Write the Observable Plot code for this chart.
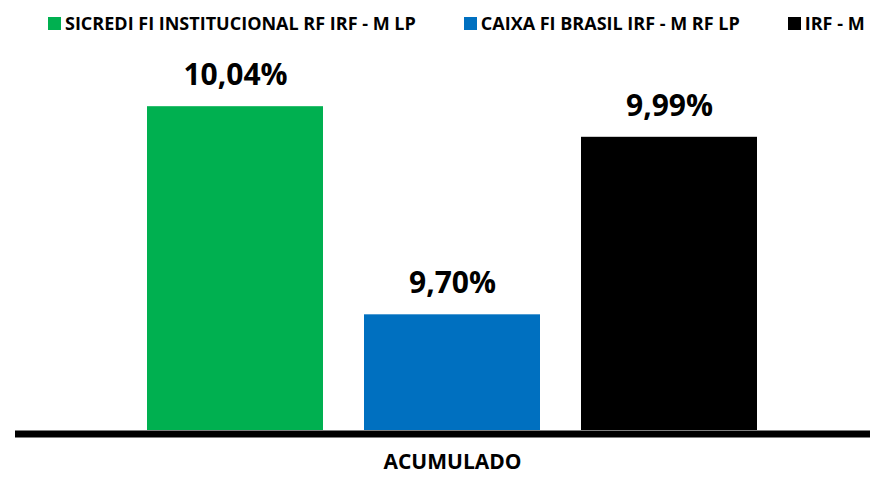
<!DOCTYPE html>
<html>
<head>
<meta charset="utf-8">
<script src="https://cdn.jsdelivr.net/npm/d3@7"></script>
<script src="https://cdn.jsdelivr.net/npm/@observablehq/plot@0.6"></script>
<style>
  html, body { margin: 0; padding: 0; background: #fff; }
  body { width: 870px; height: 477px; overflow: hidden; font-family: "Open Sans", "Liberation Sans", sans-serif; }
  #legend { height: 40px; display: flex; align-items: flex-start; padding-left: 48px; gap: 48px; box-sizing: border-box; padding-top: 12px; }
  .item { display: flex; align-items: center; font-weight: 700; font-size: 18px; color: #000; white-space: nowrap; line-height: 22px; }
  .sw { width: 13px; height: 13px; margin-right: 4px; flex: none; }
  #chart svg { overflow: visible; display: block; }
</style>
</head>
<body>
<div id="legend"></div>
<div id="chart"></div>
<script>
const categories = ["SICREDI FI INSTITUCIONAL RF IRF - M LP", "CAIXA FI BRASIL IRF - M RF LP", "IRF - M"];
const values = [10.04, 9.70, 9.99];
const labels = ["10,04%", "9,70%", "9,99%"];
const colors = ["#00B050", "#0070C0", "#000000"];
const axisTitle = "ACUMULADO";

const data = categories.map((c, i) => ({name: c, value: values[i], label: labels[i]}));

const legend = document.getElementById("legend");
categories.forEach((c, i) => {
  const it = document.createElement("div");
  it.className = "item";
  const sw = document.createElement("span");
  sw.className = "sw";
  sw.style.background = colors[i];
  it.appendChild(sw);
  it.appendChild(document.createTextNode(c));
  legend.appendChild(it);
});

const yMin = 9.511;
const chart = Plot.plot({
  width: 870,
  height: 437,
  marginLeft: 15,
  marginRight: 0,
  marginTop: 16,
  marginBottom: 47,
  style: {fontFamily: "'Open Sans', 'Liberation Sans', sans-serif", background: "#fff"},
  x: {type: "band", domain: categories, range: [145.3, 758.3], paddingInner: 0.188, paddingOuter: 0, axis: null},
  y: {domain: [yMin, 10.122], axis: null},
  color: {domain: categories, range: colors},
  marks: [
    Plot.barY(data, {x: "name", y1: yMin, y2: "value", fill: "name"}),
    Plot.text(data, {x: "name", y: "value", text: "label", dy: -31, lineAnchor: "middle", fontSize: 30, fontWeight: 700, fill: "#000"}),
    Plot.ruleY([yMin], {stroke: "#000", strokeWidth: 7, dy: 3.5}),
    Plot.text([axisTitle], {x: () => categories[1], text: d => d, frameAnchor: "bottom", dy: 32, lineAnchor: "middle", fontSize: 21, fontWeight: 700, fill: "#000"})
  ]
});
document.getElementById("chart").appendChild(chart);
</script>
</body>
</html>
